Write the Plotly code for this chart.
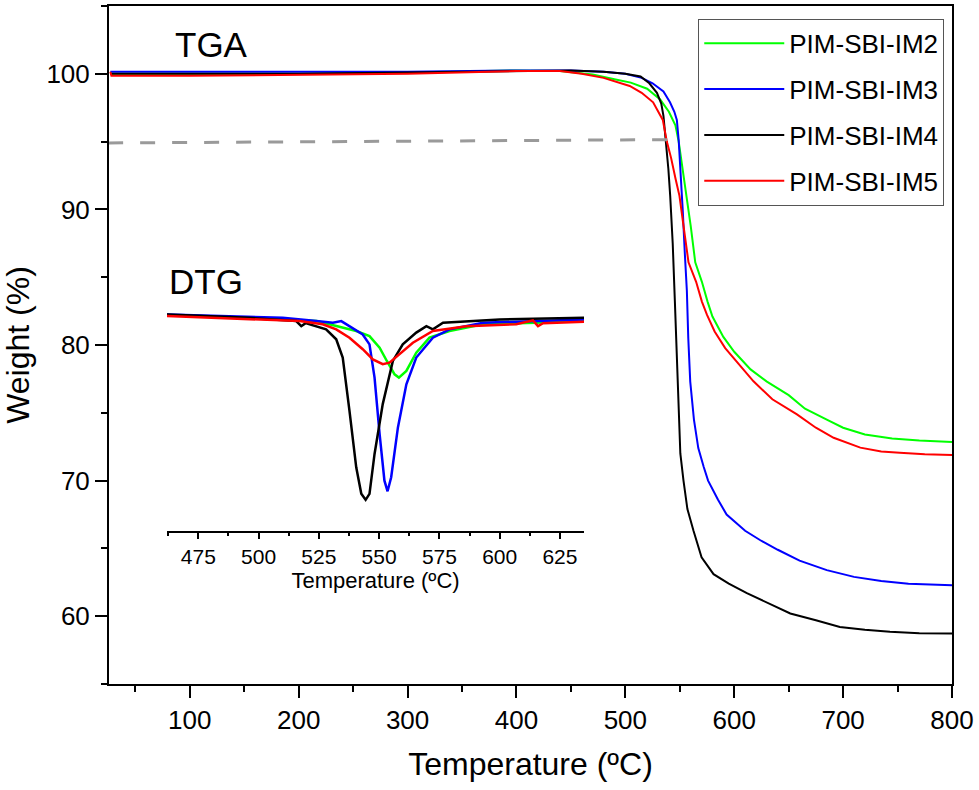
import plotly.graph_objects as go

# TGA curves (temperature in ºC, weight in %)
im2_t = [27, 100, 200, 300, 400, 440, 470, 490, 505, 520, 532, 540, 546, 549, 552.5, 556.5, 560, 564.2, 570.3,
         575.5, 580, 590, 600, 615, 630, 650, 665, 685, 700, 720, 745, 770, 800]
im2_w = [100.0, 100.0, 100.0, 100.1, 100.25, 100.2, 99.95, 99.6, 99.35, 98.9, 98.1, 97.2, 96.2, 95.0, 93.0, 91.0,
         88.8, 86.1, 84.66, 83.2, 82.1, 80.6, 79.5, 78.2, 77.3, 76.3, 75.3, 74.5, 73.9, 73.4, 73.1, 72.95, 72.85]

im3_t = [27, 100, 200, 300, 400, 450, 480, 500, 515, 525, 535, 541, 545, 547.3, 549, 551, 552.8, 554.6, 556.5,
         557.8, 559.6, 563, 567, 572, 576, 585, 593, 610, 624, 640, 660, 685, 710, 735, 760, 800]
im3_w = [100.15, 100.15, 100.1, 100.15, 100.25, 100.25, 100.15, 100.0, 99.7, 99.3, 98.7, 97.9, 97.2, 96.6, 95.1,
         92.5, 89.8, 86.8, 84.0, 80.5, 77.3, 74.5, 72.4, 71.0, 70.0, 68.6, 67.5, 66.3, 65.6, 64.9, 64.1, 63.4,
         62.9, 62.6, 62.4, 62.28]

im4_t = [27, 100, 200, 300, 400, 450, 480, 500, 514, 522, 529, 533, 535, 537.5, 539.5, 541.2, 543.5, 545.5, 547,
         548.8, 550.5, 553.4, 557, 562.6, 570, 581, 595, 611.6, 630, 651.5, 675, 697, 720, 743, 770, 800]
im4_w = [100.0, 100.0, 100.0, 100.1, 100.2, 100.25, 100.15, 100.0, 99.8, 99.3, 98.6, 97.8, 96.9, 95.0, 93.0, 91.0,
         87.5, 83.2, 79.5, 74.9, 72.0, 70.0, 67.9, 66.3, 64.35, 63.1, 62.4, 61.7, 61.0, 60.2, 59.7, 59.2, 59.0,
         58.85, 58.75, 58.73]

im5_t = [27, 28, 100, 200, 300, 400, 440, 460, 480, 504, 515, 525.5, 534.4, 538.1, 542, 546, 549.7, 553.4, 558,
         565, 570.3, 575, 582, 591.7, 605, 617.7, 635, 657.6, 675, 691.3, 715.8, 735, 752, 775, 800]
im5_w = [100.15, 99.85, 99.85, 99.9, 100.0, 100.2, 100.2, 100.0, 99.7, 99.1, 98.6, 97.9, 96.6, 95.0, 93.8, 92.3,
         91.0, 88.8, 86.1, 84.66, 83.2, 82.22, 81.0, 79.77, 78.5, 77.32, 76.0, 74.88, 73.9, 73.16, 72.43, 72.15,
         72.06, 71.95, 71.89]

# 5 % weight-loss guide
guide_t = [25, 551]
guide_w = [94.9, 95.15]

# DTG curves (inset, arbitrary units)
d2_t = [462, 496, 524, 532, 540.5, 546, 550.2, 553.2, 556.4, 558.2, 561.3, 565.4, 570.9, 579.2, 593.1, 615.3, 635]
d2_v = [0.0, -0.012, -0.026, -0.048, -0.069, -0.091, -0.141, -0.199, -0.257, -0.271, -0.242, -0.163, -0.098,
        -0.069, -0.04, -0.033, -0.023]

d3_t = [462, 510, 524, 530.8, 534.3, 537.7, 543.2, 546, 548.1, 550.2, 552.2, 553.5, 555, 557.8, 561.3, 565.4,
        572.3, 579.2, 593.1, 635]
d3_v = [0.003, -0.012, -0.026, -0.033, -0.026, -0.048, -0.084, -0.127, -0.271, -0.516, -0.718, -0.764, -0.703,
        -0.487, -0.3, -0.184, -0.098, -0.062, -0.033, -0.019]

d4_t = [462, 496, 515.6, 517.7, 519.5, 523.9, 528, 532.2, 534.9, 537.7, 540.5, 542.6, 544.4, 546, 548.1, 551.5,
        555.7, 559.8, 565.4, 569.6, 572.3, 576.5, 586.2, 600, 635]
d4_v = [0.003, -0.012, -0.026, -0.048, -0.035, -0.048, -0.062, -0.105, -0.184, -0.415, -0.66, -0.775, -0.801,
        -0.775, -0.602, -0.386, -0.199, -0.127, -0.076, -0.048, -0.062, -0.033, -0.026, -0.019, -0.012]

d5_t = [462, 496, 517, 526.6, 532.2, 537.7, 543.2, 547.4, 551.5, 554.3, 558.5, 564, 572.3, 586.2, 606.9, 613.8,
        615.9, 618, 635]
d5_v = [-0.004, -0.016, -0.026, -0.04, -0.062, -0.098, -0.148, -0.192, -0.213, -0.206, -0.17, -0.12, -0.069,
        -0.048, -0.04, -0.023, -0.048, -0.035, -0.029]

names = ["PIM-SBI-IM2", "PIM-SBI-IM3", "PIM-SBI-IM4", "PIM-SBI-IM5"]
colors = ["#00FF00", "#0000FF", "#000000", "#FF0000"]

FONT = "Arial, Liberation Sans, sans-serif"

fig = go.Figure()

tga = [(im2_t, im2_w), (im3_t, im3_w), (im4_t, im4_w), (im5_t, im5_w)]
for i, (t, w) in enumerate(tga):
    fig.add_trace(go.Scatter(x=t, y=w, mode="lines", name=names[i], legendgroup=names[i],
                             line=dict(color=colors[i], width=2)))

fig.add_trace(go.Scatter(x=guide_t, y=guide_w, mode="lines", showlegend=False,
                         line=dict(color="#9a9a9a", width=3, dash="15px,17px")))

dtg = [(d2_t, d2_v), (d3_t, d3_v), (d4_t, d4_v), (d5_t, d5_v)]
for i, (t, v) in enumerate(dtg):
    fig.add_trace(go.Scatter(x=t, y=v, mode="lines", showlegend=False, xaxis="x2", yaxis="y2",
                             line=dict(color=colors[i], width=2.5)))

fig.update_layout(
    width=979, height=790,
    margin=dict(l=109, r=27, t=4, b=106),
    paper_bgcolor="white", plot_bgcolor="white",
    font=dict(family=FONT, color="black"),
    xaxis=dict(range=[25.8, 800], dtick=100, tick0=0, showgrid=False, zeroline=False,
               showline=True, linecolor="black", linewidth=2, mirror=True,
               ticks="outside", ticklen=12, tickwidth=2, tickcolor="black",
               tickfont=dict(size=26),
               minor=dict(dtick=50, tick0=0, ticks="outside", ticklen=6, tickwidth=2, tickcolor="black"),
               title=dict(text="Temperature (ºC)", font=dict(size=32), standoff=18)),
    yaxis=dict(range=[55, 105], dtick=10, tick0=0, showgrid=False, zeroline=False,
               showline=True, linecolor="black", linewidth=2, mirror=True,
               ticks="outside", ticklen=12, tickwidth=2, tickcolor="black",
               tickfont=dict(size=26),
               minor=dict(dtick=5, tick0=0, ticks="outside", ticklen=6, tickwidth=2, tickcolor="black"),
               title=dict(text="Weight (%)", font=dict(size=32), standoff=13)),
    xaxis2=dict(domain=[0.0688, 0.5635], range=[462, 635], anchor="y2", dtick=25, tick0=0,
                showgrid=False, zeroline=False, showline=True, linecolor="black", linewidth=2,
                ticks="outside", ticklen=6, tickwidth=1.5, tickcolor="black",
                tickfont=dict(size=21),
                minor=dict(dtick=12.5, tick0=0, ticks="outside", ticklen=3, tickwidth=1.5, tickcolor="black"),
                title=dict(text="Temperature (ºC)", font=dict(size=22), standoff=4)),
    yaxis2=dict(domain=[0.2254, 0.5647], range=[-0.937, 0.0605], anchor="x2", visible=False),
    legend=dict(x=0.699, y=0.981, xanchor="left", yanchor="top", bgcolor="white",
                bordercolor="#555555", borderwidth=1, font=dict(size=26),
                tracegroupgap=9, itemwidth=80),
    showlegend=True,
    annotations=[
        dict(text="TGA", x=0.121, y=0.9426, xref="paper", yref="paper", showarrow=False,
             xanchor="center", yanchor="middle", font=dict(size=35)),
        dict(text="DTG", x=0.115, y=0.594, xref="paper", yref="paper", showarrow=False,
             xanchor="center", yanchor="middle", font=dict(size=35)),
    ],
)

fig.write_html("out.html", config={"displayModeBar": False},
               post_script="document.body.style.margin='0px';")
